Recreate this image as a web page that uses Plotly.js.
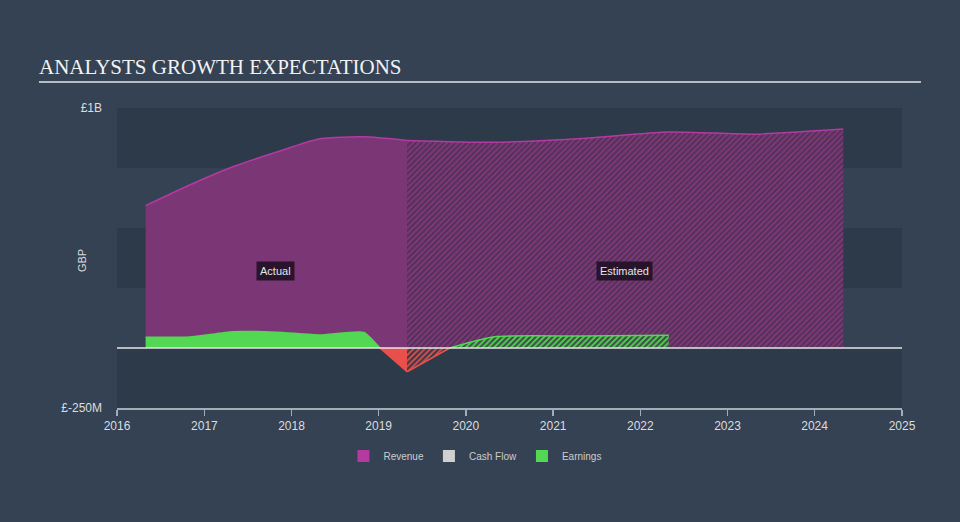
<!DOCTYPE html>
<html><head><meta charset="utf-8">
<script src="https://cdn.plot.ly/plotly-3.0.1.min.js"></script>
<style>html,body{margin:0;padding:0;background:#344254;} #chart{width:960px;height:522px;}</style>
</head><body><div id="chart"></div>
<script>
// ---- data (GBP millions) ----
const revenueActualDates = ['2016-04-30','2016-10-31','2017-04-30','2017-10-31','2018-04-30','2018-10-31','2019-04-30'];
const revenueActual      = [593, 679, 755, 817, 872, 880, 865];
const revenueEstDates    = ['2019-04-30','2020-04-30','2021-04-30','2022-04-30','2023-04-30','2024-04-30'];
const revenueEst         = [865, 857, 873, 900, 891, 912];
const earningsActualDates = ['2016-04-30','2016-10-31','2017-04-30','2017-10-31','2018-04-30','2018-10-31','2019-01-06','2019-04-30'];
const earningsActual      = [45, 46, 68, 66, 54, 65, 0, -99];
const earningsEstDates    = ['2019-04-30','2019-10-26','2020-04-30','2021-04-30','2022-04-30'];
const earningsEst         = [-99, 0, 47, 50, 53];
const yTickValues = [-250, 1000];
const yTickLabels = ['£-250M', '£1B'];
const legendNames = ['Revenue', 'Cash Flow', 'Earnings'];

const C = {rev:'#b43aa2', revFill:'#7b3775', earn:'#52d852', neg:'#e9504c', cash:'#d0d0d0'};

function part(dates, vals, sign){
  const x=[], y=[];
  vals.forEach((v,i)=>{ if(sign>0 ? v>=0 : v<=0){ x.push(dates[i]); y.push(v);} });
  return {x, y};
}

const eaPos = part(earningsActualDates, earningsActual, 1);
const eaNeg = part(earningsActualDates, earningsActual, -1);
const eePos = part(earningsEstDates, earningsEst, 1);
const eeNeg = part(earningsEstDates, earningsEst, -1);

const traces = [
  {type:'scatter', mode:'lines', x:revenueActualDates, y:revenueActual, fill:'tozeroy',
   fillcolor:C.revFill, line:{color:C.rev, width:1.5, shape:'spline', smoothing:0.6}, showlegend:false, hoverinfo:'skip'},
  {type:'scatter', mode:'lines', x:revenueEstDates, y:revenueEst, fill:'tozeroy',
   fillcolor:'#7b3775', fillpattern:{shape:'/', bgcolor:'#7b3775', fgcolor:'#44304f', size:4, solidity:0.35},
   line:{color:C.rev, width:1.5, shape:'spline', smoothing:0.6}, showlegend:false, hoverinfo:'skip'},
  {type:'scatter', mode:'lines', x:eaPos.x, y:eaPos.y, fill:'tozeroy', fillcolor:C.earn,
   line:{color:C.earn, width:1.5, shape:'spline', smoothing:0.5}, showlegend:false, hoverinfo:'skip'},
  {type:'scatter', mode:'lines', x:eaNeg.x, y:eaNeg.y, fill:'tozeroy', fillcolor:C.neg,
   line:{color:C.neg, width:1.5}, showlegend:false, hoverinfo:'skip'},
  {type:'scatter', mode:'lines', x:eeNeg.x, y:eeNeg.y, fill:'tozeroy', fillcolor:'#3a3a48',
   fillpattern:{shape:'/', bgcolor:'#3c3b4a', fgcolor:C.neg, size:4, solidity:0.4},
   line:{color:C.neg, width:1.5}, showlegend:false, hoverinfo:'skip'},
  {type:'scatter', mode:'lines', x:eePos.x, y:eePos.y, fill:'tozeroy', fillcolor:'#3f504a',
   fillpattern:{shape:'/', bgcolor:'#3f504a', fgcolor:C.earn, size:4, solidity:0.45},
   line:{color:C.earn, width:1.5, shape:'spline', smoothing:0.6}, showlegend:false, hoverinfo:'skip'},
  {type:'bar', x:[null], y:[null], name:legendNames[0], marker:{color:C.rev}},
  {type:'bar', x:[null], y:[null], name:legendNames[1], marker:{color:C.cash}},
  {type:'bar', x:[null], y:[null], name:legendNames[2], marker:{color:C.earn}}
];

const band = '#2d3a4a';
const bandRanges = [[750,1000],[250,500],[-250,0]];
const shapes = bandRanges.map(r=>({type:'rect', xref:'paper', yref:'y', x0:0, x1:1, y0:r[0], y1:r[1],
  fillcolor:band, line:{width:0}, layer:'below'}));
shapes.push({type:'line', xref:'paper', yref:'y', x0:0, x1:1, y0:0, y1:0, line:{color:'#e6e6e6', width:1.5}, layer:'above'});
shapes.push({type:'line', xref:'paper', yref:'paper', x0:-0.0994, x1:1.0242, y0:1.0867, y1:1.0867, line:{color:'#b8bcc2', width:2}});

const layout = {
  width:960, height:522,
  paper_bgcolor:'#344254', plot_bgcolor:'#344254',
  margin:{l:117, r:58, t:108, b:114},
  font:{family:'Liberation Sans, Arial, sans-serif', color:'#dddddd', size:12},
  title:{text:'ANALYSTS GROWTH EXPECTATIONS', x:0.0406, xanchor:'left', xref:'container',
         y:0.872, yanchor:'middle', yref:'container',
         font:{family:'Liberation Serif, Times New Roman, serif', size:21, color:'#f2f2f2'}},
  xaxis:{type:'date', range:['2016-01-01','2025-01-01'], dtick:'M12', tick0:'2016-01-01', tickformat:'%Y',
         showgrid:false, zeroline:false, showline:true, linecolor:'#a3acb7', linewidth:1.5,
         ticks:'outside', ticklen:6, tickcolor:'#a3acb7', tickwidth:1.5,
         tickfont:{size:12, color:'#dddddd'}, fixedrange:true},
  yaxis:{range:[-250,1000], tickvals:yTickValues, ticktext:yTickLabels, showgrid:false, zeroline:false,
         showline:false, ticks:'', ticklabelstandoff:14, tickfont:{size:12, color:'#dddddd'}, fixedrange:true},
  showlegend:true,
  legend:{orientation:'h', x:0.456, xanchor:'center', y:-0.16, yanchor:'middle',
          font:{size:10, color:'#cccccc'}, bgcolor:'rgba(0,0,0,0)', traceorder:'normal'},
  shapes:shapes,
  annotations:[
    {xref:'paper', yref:'paper', x:-0.0446, y:0.493, xanchor:'center', yanchor:'middle', text:'GBP', textangle:-90, showarrow:false,
     font:{size:11, color:'#dddddd'}},
    {xref:'paper', yref:'paper', x:0.2025, y:0.4567, xanchor:'center', yanchor:'middle', text:'Actual', showarrow:false,
     bgcolor:'rgba(30,16,34,0.88)', borderpad:3, font:{size:11, color:'#e6e6e6'}},
    {xref:'paper', yref:'paper', x:0.647, y:0.4567, xanchor:'center', yanchor:'middle', text:'Estimated', showarrow:false,
     bgcolor:'rgba(30,16,34,0.88)', borderpad:3, font:{size:11, color:'#e6e6e6'}}
  ]
};

Plotly.newPlot('chart', traces, layout, {staticPlot:true, displayModeBar:false});
</script></body></html>
